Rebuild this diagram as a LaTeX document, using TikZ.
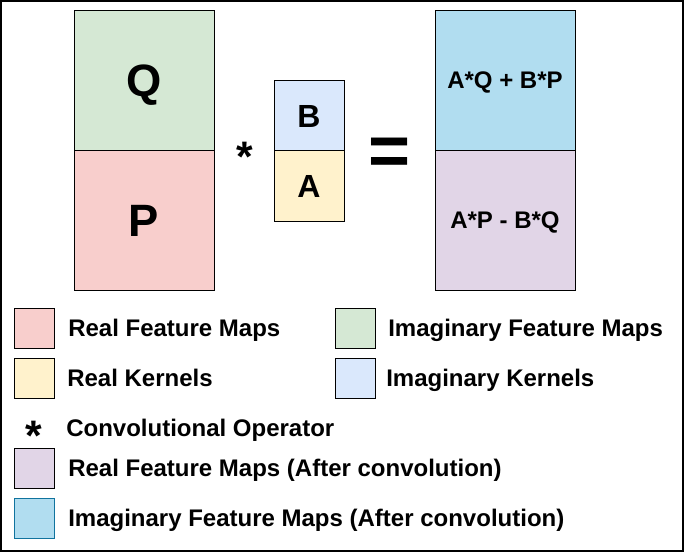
\documentclass[tikz,border=0pt]{standalone}
\usepackage{fontspec}
\setmainfont{Liberation Sans}
\usetikzlibrary{positioning}
\definecolor{realmap}{HTML}{F8CECC}
\definecolor{imagmap}{HTML}{D5E8D4}
\definecolor{realkern}{HTML}{FFF2CC}
\definecolor{imagkern}{HTML}{DAE8FC}
\definecolor{realout}{HTML}{E1D5E7}
\definecolor{imagout}{HTML}{B1DDF0}
\definecolor{imagoutline}{HTML}{10739E}
\tikzset{
  fmapbox/.style={draw, line width=0.75pt, minimum width=105pt, minimum height=105pt, inner sep=0pt, outer sep=0pt, text depth=0pt, font=\fontsize{34}{34}\selectfont\bfseries},
  kernbox/.style={draw, line width=0.75pt, minimum width=52.5pt, minimum height=52.5pt, inner sep=0pt, outer sep=0pt, text depth=0pt, font=\fontsize{24}{24}\selectfont\bfseries},
  outbox/.style={fmapbox, font=\fontsize{18}{18}\selectfont\bfseries},
  swatch/.style={draw, line width=0.75pt, minimum width=30pt, minimum height=30pt, inner sep=0pt},
  legtext/.style={anchor=base west, inner sep=0pt, font=\fontsize{18}{18}\selectfont\bfseries},
  opsign/.style={inner sep=0pt, font=\fontsize{32}{32}\selectfont\bfseries}
}

\begin{document}
\begin{tikzpicture}[x=0.75pt, y=-0.75pt]
  \useasboundingbox (0,0) rectangle (684,552);
  \draw[line width=1.2pt] (1,1) rectangle (683,551);

  % input feature maps
  \node[fmapbox, fill=imagmap] (q) at (144,80.5) {Q};
  \node[fmapbox, fill=realmap, below=0pt of q] (p) {P};
  \node[opsign] (conv) at (245,157) {*};

  % kernels
  \node[kernbox, fill=imagkern] (b) at (309,116) {B};
  \node[kernbox, fill=realkern, below=0pt of b] (a) {A};
  \node[opsign, font=\fontsize{54}{54}\selectfont\bfseries] (eq) at (389.5,157) {=};

  % output feature maps
  \node[outbox, fill=imagout] (imout) at (505,80.5) {A*Q + B*P};
  \node[outbox, fill=realout, below=0pt of imout] (reout) {A*P - B*Q};

  % legend
  \node[swatch, fill=realmap] (lg1) at (34,328) {};
  \node[legtext] (lt1) at (68,336) {Real Feature Maps};
  \node[swatch, fill=imagmap] (lg2) at (355,328) {};
  \node[legtext] (lt2) at (388,336) {Imaginary Feature Maps};
  \node[swatch, fill=realkern] (lg3) at (34,378) {};
  \node[legtext] (lt3) at (67,386) {Real Kernels};
  \node[swatch, fill=imagkern] (lg4) at (355,378) {};
  \node[legtext] (lt4) at (386,386) {Imaginary Kernels};
  \node[opsign] (lg5) at (34,436) {*};
  \node[legtext] (lt5) at (66,436) {Convolutional Operator};
  \node[swatch, fill=realout] (lg6) at (34,468) {};
  \node[legtext] (lt6) at (68,476) {Real Feature Maps (After convolution)};
  \node[swatch, fill=imagout, draw=imagoutline] (lg7) at (34,518) {};
  \node[legtext] (lt7) at (68,526) {Imaginary Feature Maps (After convolution)};
\end{tikzpicture}
\end{document}
